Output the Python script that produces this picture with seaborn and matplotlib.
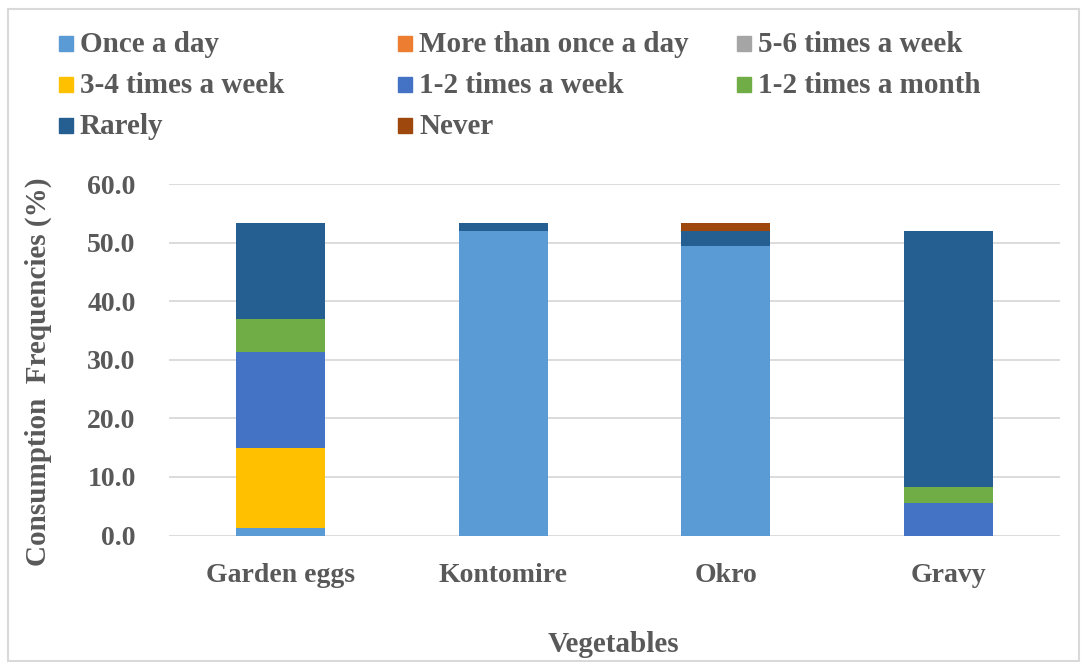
import matplotlib
matplotlib.use('Agg')
import matplotlib.pyplot as plt
from matplotlib.patches import Rectangle
import numpy as np
import seaborn as sns

# 数据
vegetables = ['Garden eggs', 'Kontomire', 'Okro', 'Gravy']
series_names = ['Once a day', 'More than once a day', '5-6 times a week',
                '3-4 times a week', '1-2 times a week', '1-2 times a month',
                'Rarely', 'Never']
once_a_day = [1.3, 52.0, 49.4, 0.0]
more_than_once = [0.0, 0.0, 0.0, 0.0]
five_six_week = [0.0, 0.0, 0.0, 0.0]
three_four_week = [13.7, 0.0, 0.0, 0.0]
one_two_week = [16.4, 0.0, 0.0, 5.5]
one_two_month = [5.5, 0.0, 0.0, 2.7]
rarely = [16.5, 1.4, 2.5, 43.8]
never = [0.0, 0.0, 1.5, 0.0]

colors = ['#5B9BD5', '#ED7D31', '#A5A5A5', '#FFC000',
          '#4472C4', '#70AD47', '#255E91', '#9E480E']

series = [once_a_day, more_than_once, five_six_week, three_four_week,
          one_two_week, one_two_month, rarely, never]

sns.set_style('white')
plt.rcParams['font.family'] = ['Liberation Serif', 'DejaVu Serif']
plt.rcParams['font.weight'] = 'bold'
text_col = '#595959'

W, H = 1081, 662
fig = plt.figure(figsize=(W / 100, H / 100), dpi=100)
ax = fig.add_axes([169 / W, 1 - 535.5 / H, (1060 - 169) / W, (535.5 - 184) / H])

# 堆叠柱状图：从总和往下依次覆盖
cum = np.cumsum(np.array(series), axis=0)
for i in range(len(series) - 1, -1, -1):
    sns.barplot(x=vegetables, y=cum[i], color=colors[i], width=0.4,
                saturation=1, errorbar=None, order=vegetables, ax=ax,
                linewidth=0)

ax.set_ylim(0, 60)
ax.set_yticks(np.arange(0, 61, 10))
ax.set_yticklabels(['%.1f' % v for v in np.arange(0, 61, 10)])
ax.yaxis.grid(True, color='#d9d9d9', linewidth=1.3)
ax.set_axisbelow(True)
for s in ax.spines.values():
    s.set_visible(False)
ax.tick_params(axis='both', length=0, labelsize=20, labelcolor=text_col)
ax.tick_params(axis='y', pad=24)
ax.tick_params(axis='x', pad=20)
for lab in ax.get_xticklabels() + ax.get_yticklabels():
    lab.set_fontweight('bold')
ax.set_xlabel('')
ax.set_ylabel('')

fig.text(38 / W, 1 - 372 / H, 'Consumption  Frequencies (%)', rotation=90,
         ha='center', va='center', fontsize=21, color=text_col, fontweight='bold')
fig.text(613 / W, 1 - 645 / H, 'Vegetables', ha='center', va='center',
         fontsize=21, color=text_col, fontweight='bold')

# 图例，按行排列
col_x = [59, 398, 737]
row_base = [52, 93, 134]
for k, name in enumerate(series_names):
    r, c = divmod(k, 3)
    x0 = col_x[c]
    yb = row_base[r]
    fig.patches.append(Rectangle((x0 / W, 1 - (yb - 1) / H), 14 / W, 15 / H,
                                 transform=fig.transFigure, color=colors[k]))
    fig.text((x0 + 21) / W, 1 - yb / H, name, ha='left', va='baseline',
             fontsize=21, color=text_col, fontweight='bold')

# 外框
fig.patches.append(Rectangle((8 / W, 1 / H), (W - 10) / W, (H - 10) / H,
                             transform=fig.transFigure, fill=False,
                             edgecolor='#d9d9d9', linewidth=1.5))

fig.savefig('out.png', dpi=100)
